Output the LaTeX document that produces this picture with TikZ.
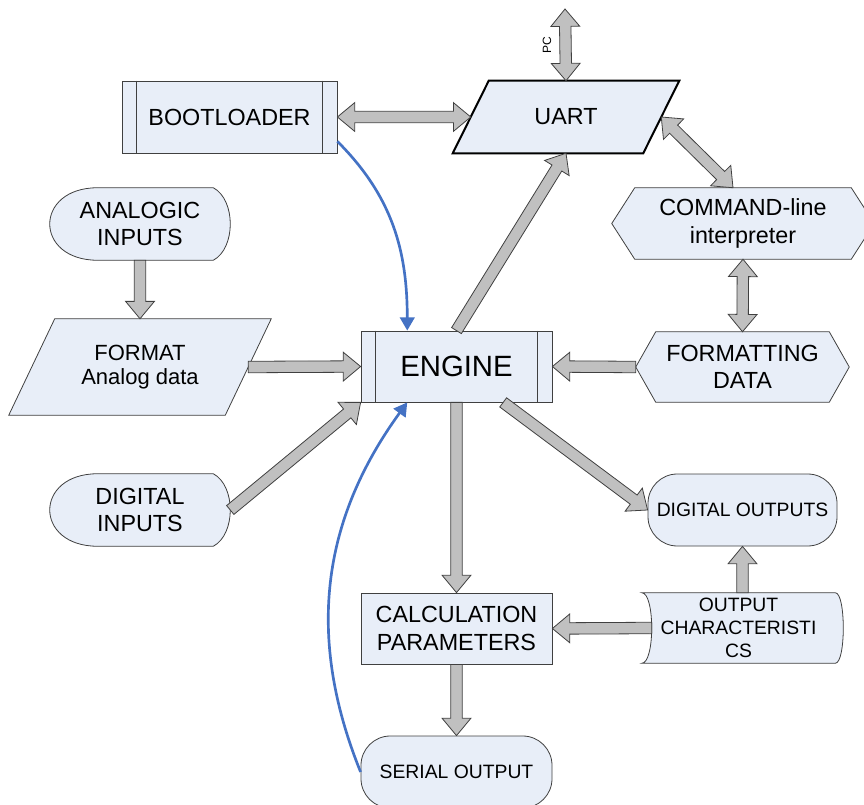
\documentclass[tikz,border=0pt]{standalone}
\usepackage{fontspec}
\setmainfont{Liberation Sans}
\usetikzlibrary{calc,arrows.meta,backgrounds}
\definecolor{boxfill}{RGB}{232,238,248}
\definecolor{boxline}{RGB}{64,64,64}
\definecolor{arrfill}{RGB}{192,192,192}
\definecolor{arrline}{RGB}{64,64,64}
\definecolor{linkblue}{RGB}{68,114,196}
\newcommand\lblfont{\fontsize{17.5}{20.5}\selectfont}
\newcommand\engfont{\fontsize{22}{24}\selectfont}
\newcommand\smlfont{\fontsize{14.5}{17.5}\selectfont}
\newcommand\pcfont{\fontsize{9}{10}\selectfont}
\newcommand\fatarrow[2]{%
  \coordinate (a-s) at (#1);
  \coordinate (a-e) at (#2);
  \coordinate (a-h) at ($(a-e)!13pt!(a-s)$);
  \draw[arr] ($(a-s)!4.3pt!90:(a-e)$) -- ($(a-h)!4.3pt!90:(a-e)$) -- ($(a-h)!10.8pt!90:(a-e)$) -- (a-e)
    -- ($(a-h)!10.8pt!-90:(a-e)$) -- ($(a-h)!4.3pt!-90:(a-e)$) -- ($(a-s)!4.3pt!-90:(a-e)$) -- cycle;
}
\newcommand\dblarrow[2]{%
  \coordinate (a-s) at (#1);
  \coordinate (a-e) at (#2);
  \coordinate (a-h) at ($(a-e)!13pt!(a-s)$);
  \coordinate (a-t) at ($(a-s)!13pt!(a-e)$);
  \draw[arr] (a-s) -- ($(a-t)!10.8pt!90:(a-e)$) -- ($(a-t)!4.3pt!90:(a-e)$) -- ($(a-h)!4.3pt!90:(a-e)$)
    -- ($(a-h)!10.8pt!90:(a-e)$) -- (a-e) -- ($(a-h)!10.8pt!-90:(a-e)$) -- ($(a-h)!4.3pt!-90:(a-e)$)
    -- ($(a-t)!4.3pt!-90:(a-e)$) -- ($(a-t)!10.8pt!-90:(a-e)$) -- cycle;
}
\tikzset{
  box/.style={draw=boxline, fill=boxfill, line width=0.6pt, align=center, inner sep=0pt, font=\lblfont},
  txt/.style={align=center, inner sep=0pt, font=\lblfont},
  shp/.style={draw=boxline, fill=boxfill, line width=0.6pt},
  arr/.style={draw=arrline, fill=arrfill, line width=0.6pt},
  link/.style={linkblue, line width=2pt, -{Triangle[width=11pt,length=10pt]}},
}
\begin{document}
\begin{tikzpicture}[x=0.75pt, y=-0.75pt]
  \useasboundingbox (0,0) rectangle (864,805);
  \node[box, minimum width=161.25pt, minimum height=54pt] (boot) at (229.5,117) {BOOTLOADER};
  \node[txt, minimum width=142.5pt, minimum height=54pt] (uart) at (566,117) {UART};
  \node[txt, minimum width=196.5pt, minimum height=53.25pt] (cmd) at (743,223.5) {COMMAND-line\\interpreter};
  \node[txt, minimum width=135pt, minimum height=54pt] (ana) at (140,224) {ANALOGIC\\INPUTS};
  \node[txt, minimum width=162pt, minimum height=72pt, font=\fontsize{16.5}{17.5}\selectfont] (fmtan) at (140,367) {FORMAT\\Analog data};
  \node[box, minimum width=143.25pt, minimum height=53.25pt, font=\engfont] (eng) at (456.5,366.5) {ENGINE};
  \node[txt, minimum width=159.75pt, minimum height=52.5pt] (fmtdata) at (742.5,367) {FORMATTING\\DATA};
  \node[txt, minimum width=135pt, minimum height=54pt] (din) at (140,510) {DIGITAL\\INPUTS};
  \node[box, rounded corners=22pt, minimum width=141.75pt, minimum height=54pt, font=\smlfont] (dout) at (742.5,510) {DIGITAL OUTPUTS};
  \node[txt, minimum width=144.75pt, minimum height=52.5pt, font=\smlfont] (oc) at (738.5,628) {OUTPUT\\CHARACTERISTI\\CS};
  \node[box, minimum width=143.25pt, minimum height=53.25pt] (param) at (456.5,628.5) {CALCULATION\\PARAMETERS};
  \node[box, rounded corners=22pt, minimum width=143.25pt, minimum height=54pt, font=\smlfont] (ser) at (456.5,772) {SERIAL OUTPUT};
  \coordinate (pc) at (565,9);
  \node[font=\pcfont, rotate=90] (pclbl) at (547,45) {PC};

  \begin{scope}[on background layer]
    \draw[shp, draw=black, line width=1.5pt] ($(uart.north west)+(18,0)$) -- ($(uart.north east)+(18,0)$)
      -- ($(uart.south east)+(-18,0)$) -- ($(uart.south west)+(-18,0)$) -- cycle;
    \draw[shp] ($(fmtan.north west)+(23,0)$) -- ($(fmtan.north east)+(23,0)$)
      -- ($(fmtan.south east)+(-23,0)$) -- ($(fmtan.south west)+(-23,0)$) -- cycle;
    \draw[shp] ($(cmd.north west)+(23,0)$) -- ($(cmd.north east)+(-23,0)$) -- (cmd.east)
      -- ($(cmd.south east)+(-23,0)$) -- ($(cmd.south west)+(23,0)$) -- (cmd.west) -- cycle;
    \draw[shp] ($(fmtdata.north west)+(20,0)$) -- ($(fmtdata.north east)+(-20,0)$) -- (fmtdata.east)
      -- ($(fmtdata.south east)+(-20,0)$) -- ($(fmtdata.south west)+(20,0)$) -- (fmtdata.west) -- cycle;
    \foreach \nd in {ana,din}
      \draw[shp] ($(\nd.north west)+(48,0)$) -- ($(\nd.north east)+(-17,0)$)
        .. controls +(22.7,12) and +(22.7,-12) .. ($(\nd.south east)+(-17,0)$) -- ($(\nd.south west)+(48,0)$)
        .. controls +(-64,0) and +(-64,0) .. ($(\nd.north west)+(48,0)$) -- cycle;
    \draw[shp] (oc.north west) -- (oc.north east) .. controls +(10.7,0) and +(10.7,0) .. (oc.south east)
      -- (oc.south west) .. controls +(13.3,0) and +(13.3,0) .. (oc.north west) -- cycle;
  \end{scope}
  \foreach \nd in {boot,eng} {
    \draw[boxline, line width=0.6pt] ($(\nd.north west)+(15,0)$) -- ($(\nd.south west)+(15,0)$);
    \draw[boxline, line width=0.6pt] ($(\nd.north east)+(-15,0)$) -- ($(\nd.south east)+(-15,0)$);
  }

  \dblarrow{pc}{uart.north}
  \dblarrow{boot.east}{uart.west}
  \dblarrow{uart.east}{[xshift=-7.5pt]cmd.north}
  \dblarrow{cmd.south}{fmtdata.north}
  \fatarrow{eng.north}{uart.south}
  \fatarrow{ana.south}{fmtan.north}
  \fatarrow{fmtan.east}{eng.west}
  \fatarrow{din.east}{eng.south west}
  \fatarrow{fmtdata.west}{eng.east}
  \fatarrow{[xshift=35pt]eng.south}{dout.west}
  \fatarrow{eng.south}{param.north}
  \fatarrow{param.south}{ser.north}
  \fatarrow{dout.south |- oc.north}{dout.south}
  \fatarrow{[xshift=7.5pt]oc.west}{param.east}

  \draw[link] ([yshift=9pt]boot.south east) to[out=-45, in=90] ([xshift=35pt]eng.north west);
  \draw[link] (ser.west) to[out=112, in=-126] ([xshift=35pt]eng.south west);
\end{tikzpicture}
\end{document}
